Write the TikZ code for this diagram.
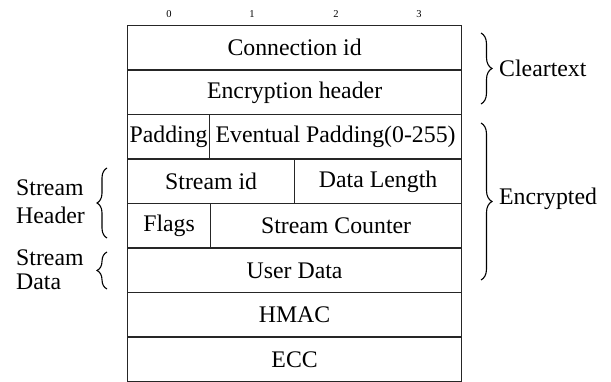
\documentclass[tikz,border=0pt]{standalone}
\usepackage{fontspec}
\setmainfont{Liberation Serif}
\usetikzlibrary{decorations.pathreplacing}
\begin{document}
\begin{tikzpicture}[x=1pt,y=-1pt,
  cell/.style={draw=black!85, line width=1.2pt, anchor=north west, inner sep=0pt,
    minimum height=44.5pt, font=\fontsize{23.8}{28}\selectfont},
  lbl/.style={font=\fontsize{23.8}{28}\selectfont, inner sep=0pt},
  num/.style={font=\fontsize{10.5}{12}\selectfont, inner sep=0pt},
  brc/.style={decorate, line width=1.1pt, decoration={brace, amplitude=11pt}}]
\useasboundingbox (0,0) rectangle (611,382);
% column numbers
\node[num] (n0) at (169,14) {0};
\node[num] (n1) at (252,14) {1};
\node[num] (n2) at (336,14) {2};
\node[num] (n3) at (419,14) {3};
% rows
\node[cell, minimum width=334pt] (conn) at (127,25) {Connection id};
\node[cell, minimum width=334pt] (enc) at (127,69.5) {Encryption header};
\node[cell, minimum width=82pt] (pad) at (127,114) {Padding};
\node[cell, minimum width=252pt] (evpad) at (209,114) {Eventual Padding(0-255)};
\node[cell, minimum width=167pt] (sid) at (127,158.5) {Stream id};
\node[cell, minimum width=167pt] (dlen) at (294,158.5) {Data Length};
\node[cell, minimum width=83pt] (flags) at (127,203) {Flags};
\node[cell, minimum width=251pt] (scnt) at (210,203) {Stream Counter};
\node[cell, minimum width=334pt] (udata) at (127,247.5) {User Data};
\node[cell, minimum width=334pt] (hmac) at (127,292) {HMAC};
\node[cell, minimum width=334pt] (ecc) at (127,336.5) {ECC};
% braces right
\coordinate (c1) at (481,33);
\coordinate (c2) at (481,104);
\draw[brc] (c1) -- (c2);
\node[lbl, anchor=west] (clear) at (499,68) {Cleartext};
\coordinate (e1) at (481,123);
\coordinate (e2) at (481,280);
\draw[brc] (e1) -- (e2);
\node[lbl, anchor=west] (encr) at (499,199) {Encrypted};
% braces left
\coordinate (h1) at (107,238);
\coordinate (h2) at (107,168);
\draw[brc, decoration={amplitude=10pt}] (h1) -- (h2);
\node[lbl, anchor=west, align=left, font=\fontsize{23.8}{28}\selectfont] (shdr) at (16,202) {Stream\\Header};
\coordinate (d1) at (107,289);
\coordinate (d2) at (107,252);
\draw[brc, decoration={amplitude=10pt}] (d1) -- (d2);
\node[lbl, anchor=west, align=left, font=\fontsize{23.8}{24}\selectfont] (sdat) at (16,270) {Stream\\Data};
\end{tikzpicture}
\end{document}
